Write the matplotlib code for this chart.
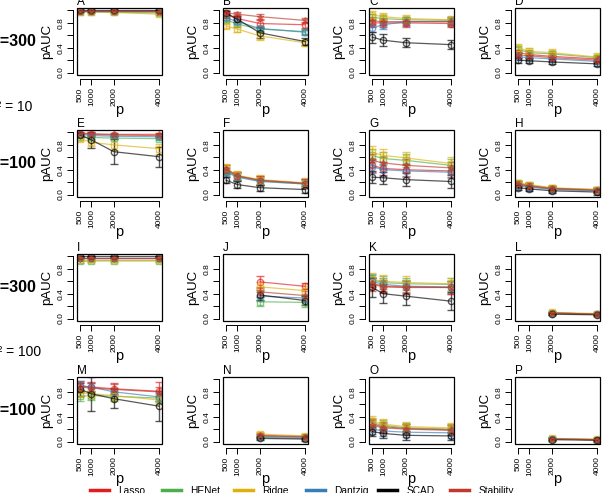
import numpy as np
import matplotlib
matplotlib.use('Agg')
import matplotlib.pyplot as plt
from matplotlib.lines import Line2D
from matplotlib.patches import Rectangle

nan = float('nan')

methods = ['Lasso', 'HENet', 'Ridge', 'Dantzig', 'SCAD', 'Stability']
p_values = [500, 1000, 2000, 4000]
panel_names = list('ABCDEFGHIJKLMNOP')
row_labels = ['n=300', 'n=100', 'n=300', 'n=100']
sigma_labels = ['σ² = 10', 'σ² = 100']

# rows: Lasso, HENet, Ridge, Dantzig, SCAD, Stability
A = [[0.99, 0.99, 0.99, 0.99], [0.98, 0.98, 0.97, 0.96], [0.98, 0.98, 0.97, 0.94],
     [0.99, 0.99, 0.99, 0.99], [1.00, 1.00, 1.00, 1.00], [0.99, 0.99, 0.99, 0.98]]
A_err = [0.01, 0.01, 0.02, 0.01, 0.005, 0.01]

B = [[0.93, 0.87, 0.79, 0.77], [0.85, 0.78, 0.70, 0.66], [0.75, 0.70, 0.59, 0.48],
     [0.88, 0.82, 0.71, 0.65], [0.96, 0.86, 0.64, 0.50], [0.96, 0.94, 0.90, 0.84]]
B_err = [0.05, 0.04, [0.04, 0.05, 0.06, 0.05], 0.04, [0.03, 0.05, 0.08, 0.05], 0.04]

C = [[0.80, 0.80, 0.80, 0.79], [0.89, 0.87, 0.85, 0.84], [0.93, 0.90, 0.87, 0.85],
     [0.72, 0.77, 0.82, 0.82], [0.57, 0.52, 0.48, 0.45], [0.83, 0.82, 0.82, 0.82]]
C_err = [0.06, 0.05, 0.06, 0.07, [0.09, 0.10, 0.07, 0.07], 0.06]

D = [[0.32, 0.29, 0.26, 0.22], [0.37, 0.32, 0.30, 0.24], [0.40, 0.34, 0.32, 0.25],
     [0.25, 0.24, 0.22, 0.18], [0.20, 0.19, 0.17, 0.14], [0.28, 0.27, 0.24, 0.20]]
D_err = [0.05, 0.05, 0.06, 0.05, 0.04, 0.05]

E = [[0.98, 0.97, 0.96, 0.95], [0.93, 0.92, 0.91, 0.90], [0.90, 0.84, 0.80, 0.74],
     [0.97, 0.95, 0.94, 0.93], [0.96, 0.88, 0.69, 0.61], [0.99, 0.98, 0.97, 0.97]]
E_err = [0.02, 0.02, [0.04, 0.06, 0.09, 0.08], 0.02, [0.03, 0.13, 0.20, 0.16], 0.02]

F = [[0.40, 0.30, 0.23, 0.18], [0.38, 0.29, 0.22, 0.17], [0.42, 0.31, 0.24, 0.19],
     [0.36, 0.28, 0.21, 0.17], [0.23, 0.16, 0.11, 0.08], [0.41, 0.30, 0.23, 0.18]]
F_err = [0.07, 0.06, 0.07, 0.06, 0.05, 0.07]

G = [[0.47, 0.42, 0.40, 0.38], [0.63, 0.58, 0.55, 0.47], [0.68, 0.63, 0.59, 0.50],
     [0.45, 0.40, 0.38, 0.36], [0.28, 0.27, 0.24, 0.21], [0.55, 0.51, 0.47, 0.43]]
G_err = [0.10, 0.10, 0.10, 0.10, 0.10, 0.10]

H = [[0.16, 0.13, 0.09, 0.07], [0.18, 0.15, 0.10, 0.08], [0.19, 0.16, 0.11, 0.08],
     [0.14, 0.12, 0.08, 0.06], [0.11, 0.09, 0.06, 0.04], [0.17, 0.14, 0.10, 0.07]]
H_err = [0.04, 0.04, 0.04, 0.04, 0.04, 0.04]

I = [[0.97, 0.97, 0.97, 0.97], [0.92, 0.93, 0.93, 0.93], [0.95, 0.95, 0.95, 0.95],
     [0.98, 0.98, 0.98, 0.98], [1.00, 1.00, 1.00, 1.00], [0.98, 0.98, 0.98, 0.98]]
I_err = [0.02, 0.02, 0.02, 0.01, 0.005, 0.01]

J = [[nan, nan, 0.59, 0.52], [nan, nan, 0.27, 0.26], [nan, nan, 0.51, 0.45],
     [nan, nan, 0.36, 0.33], [nan, nan, 0.38, 0.29], [nan, nan, 0.43, 0.37]]
J_err = [[0, 0, 0.10, 0.05], 0.07, 0.08, 0.07, 0.08, 0.08]

K = [[0.55, 0.51, 0.50, 0.50], [0.62, 0.58, 0.56, 0.55], [0.63, 0.60, 0.58, 0.56],
     [0.60, 0.55, 0.52, 0.51], [0.50, 0.40, 0.36, 0.28], [0.57, 0.52, 0.51, 0.50]]
K_err = [0.10, 0.10, 0.10, 0.10, [0.15, 0.15, 0.14, 0.14], 0.10]

L = [[nan, nan, 0.09, 0.07], [nan, nan, 0.09, 0.07], [nan, nan, 0.10, 0.08],
     [nan, nan, 0.08, 0.07], [nan, nan, 0.07, 0.06], [nan, nan, 0.09, 0.07]]
L_err = [0.02, 0.02, 0.02, 0.02, 0.02, 0.02]

M = [[0.89, 0.88, 0.85, 0.81], [0.73, 0.74, 0.73, 0.70], [0.78, 0.77, 0.74, 0.67],
     [0.90, 0.88, 0.80, 0.72], [0.84, 0.77, 0.69, 0.57], [0.88, 0.86, 0.84, 0.80]]
M_err = [[0.08, 0.08, 0.09, 0.15], 0.07, 0.07, 0.07, [0.10, 0.27, 0.15, 0.24], 0.08]

N = [[nan, nan, 0.09, 0.07], [nan, nan, 0.08, 0.07], [nan, nan, 0.12, 0.09],
     [nan, nan, 0.07, 0.05], [nan, nan, 0.05, 0.04], [nan, nan, 0.10, 0.08]]
N_err = [0.03, 0.03, 0.03, 0.03, 0.03, 0.03]

O = [[0.28, 0.24, 0.21, 0.19], [0.30, 0.26, 0.22, 0.20], [0.33, 0.28, 0.24, 0.22],
     [0.20, 0.17, 0.15, 0.14], [0.16, 0.13, 0.10, 0.09], [0.26, 0.22, 0.20, 0.18]]
O_err = [0.08, 0.08, 0.08, 0.08, 0.07, 0.08]

P = [[nan, nan, 0.04, 0.03], [nan, nan, 0.04, 0.03], [nan, nan, 0.05, 0.04],
     [nan, nan, 0.04, 0.03], [nan, nan, 0.03, 0.02], [nan, nan, 0.04, 0.03]]
P_err = [0.02, 0.02, 0.02, 0.02, 0.02, 0.02]

panel_means = dict(A=A, B=B, C=C, D=D, E=E, F=F, G=G, H=H,
                   I=I, J=J, K=K, L=L, M=M, N=N, O=O, P=P)
panel_errs = dict(A=A_err, B=B_err, C=C_err, D=D_err, E=E_err, F=F_err, G=G_err, H=H_err,
                  I=I_err, J=J_err, K=K_err, L=L_err, M=M_err, N=N_err, O=O_err, P=P_err)

colors = ['#E41A1C', '#4DAF4A', '#E0B00C', '#377EB8', '#000000', '#C0392B']
markers = ['o', 's', 's', 'o', 'o', '*']

plt.rcParams['font.family'] = ['Liberation Sans', 'DejaVu Sans']

W, Hpx = 607, 493
fig = plt.figure(figsize=(W / 100, Hpx / 100), dpi=100)

col_left = [77, 223, 369, 515]
row_top = [8, 130, 254, 377]
aw, ah = 85, 67

for k, name in enumerate(panel_names):
    r, c = divmod(k, 4)
    ax = fig.add_axes([col_left[c] / W, 1 - (row_top[r] + ah) / Hpx, aw / W, ah / Hpx])
    means = panel_means[name]
    errs = panel_errs[name]
    for i, m in enumerate(methods):
        y = np.array(means[i], float)
        e = np.broadcast_to(np.array(errs[i], float), y.shape)
        ax.errorbar(p_values, y, yerr=e, color=colors[i], alpha=0.65, lw=0.9,
                    marker=markers[i], ms=4.5, mfc='none', mew=1.0,
                    capsize=2.8, elinewidth=1.0, capthick=1.0)
    ax.set_xlim(360, 4140)
    ax.set_ylim(-0.04, 1.04)
    for s in ['top', 'right']:
        ax.spines[s].set_visible(False)
    ax.spines['left'].set_position(('outward', 3))
    ax.spines['bottom'].set_position(('outward', 3))
    ax.spines['left'].set_bounds(0, 1)
    ax.spines['bottom'].set_bounds(500, 4000)
    ax.spines['left'].set_linewidth(0.7)
    ax.spines['bottom'].set_linewidth(0.7)
    ax.add_patch(Rectangle((0, 0), 1, 1, transform=ax.transAxes, fill=False,
                           lw=0.9, ec='black', clip_on=False, zorder=5))
    ax.set_xticks(p_values)
    ax.set_xticklabels([str(v) for v in p_values], rotation=90)
    ax.set_yticks([0, 0.2, 0.4, 0.6, 0.8, 1.0])
    ax.set_yticklabels(['0.0', '', '0.4', '', '0.8', ''], rotation=90, va='center')
    ax.tick_params(length=4, width=0.7, pad=2, labelsize=6)
    ax.set_ylabel('pAUC', fontsize=9.5)
    ax.yaxis.set_label_coords(-0.28, 0.5)
    ax.set_xlabel('p', fontsize=10.5)
    ax.xaxis.set_label_coords(0.5, -0.52)
    ax.xaxis.label.set_va('center')
    ax.set_title(name, loc='left', fontsize=8.5, pad=0.5)

row_centers = [t + ah / 2 for t in row_top]
for r in range(4):
    fig.text(37 / W, 1 - row_centers[r] / Hpx, row_labels[r], ha='right', va='center',
             fontsize=11.5, fontweight='bold')
fig.text(32 / W, 1 - 107 / Hpx, sigma_labels[0], ha='right', va='center', fontsize=10)
fig.text(41 / W, 1 - 352 / Hpx, sigma_labels[1], ha='right', va='center', fontsize=10)

for i, m in enumerate(methods):
    h = Line2D([], [], color=colors[i], lw=2.5)
    fig.legend([h], [m], loc='center left', bbox_to_anchor=((90 + 72 * i) / W, 1 - 491 / Hpx),
               frameon=False, fontsize=7.3, handlelength=1.9,
               handletextpad=0.9, borderpad=0, borderaxespad=0)

fig.savefig('out.png', dpi=100)
